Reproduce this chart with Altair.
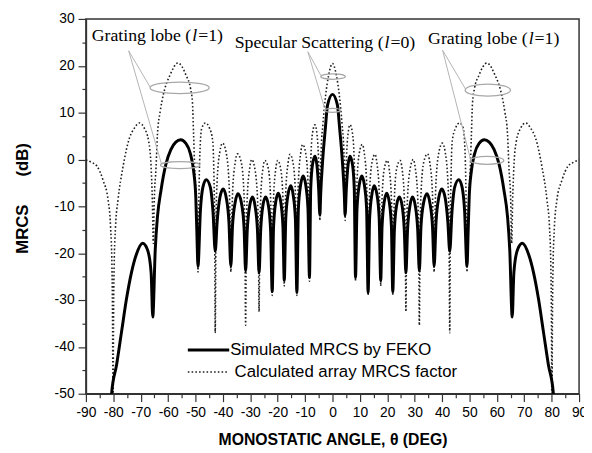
import altair as alt
import pandas as pd

# ---------------- data (angle in deg, MRCS in dB) ----------------
feko_left = [
    (-81.3, -58.0), (-80.6, -49.8), (-78.8, -43.8), (-77.0, -36.8), (-75.2, -29.8),
    (-73.4, -24.2), (-71.6, -20.3), (-69.3, -17.9), (-67.5, -19.3), (-66.2, -24.2),
    (-65.6, -33.6), (-64.7, -19.3), (-63.9, -12.3), (-62.6, -6.6), (-60.8, -1.0),
    (-59.0, 2.1), (-57.2, 3.7), (-55.4, 4.2), (-53.6, 3.5), (-51.8, 1.1),
    (-50.7, -2.4), (-49.9, -8.0), (-49.5, -15.7), (-49.1, -22.8), (-48.2, -10.8),
    (-47.3, -5.9), (-46.1, -4.3), (-44.6, -5.9), (-43.6, -11.3), (-42.8, -19.6),
    (-42.1, -13.3), (-41.1, -8.1), (-39.9, -6.3), (-38.8, -8.1), (-37.8, -13.3),
    (-37.1, -22.8), (-36.5, -14.3), (-35.5, -9.1), (-34.5, -7.3), (-33.3, -9.1),
    (-32.3, -14.3), (-31.7, -23.8), (-31.1, -15.0), (-30.2, -9.8), (-29.2, -8.0),
    (-28.3, -9.8), (-27.4, -15.0), (-26.8, -24.2), (-26.2, -15.0), (-25.4, -9.8),
    (-24.4, -8.0), (-23.4, -9.8), (-22.6, -15.0), (-22.0, -28.2), (-21.5, -14.2),
    (-20.7, -9.0), (-19.8, -7.2), (-18.9, -9.0), (-18.1, -14.2), (-17.6, -25.8),
    (-17.05, -12.6), (-16.2, -7.4), (-15.2, -5.6), (-14.4, -7.4), (-13.55, -12.6),
    (-13.0, -28.4), (-12.45, -10.5), (-11.6, -5.3), (-10.7, -3.5), (-9.8, -5.3),
    (-8.95, -10.5), (-8.4, -25.2), (-7.95, -6.3), (-7.3, -1.1), (-6.4, 0.7),
    (-5.7, -1.1), (-5.05, -6.3), (-4.6, -11.9), (-4.3, -7.3), (-3.6, -0.3),
    (-2.6, 6.7), (-1.8, 11.6), (0.0, 13.9),
]
feko_right = [
    (1.8, 11.6), (2.6, 6.7), (3.6, -0.3), (4.3, -7.3), (4.6, -11.9),
    (5.05, -6.3), (5.7, -1.1), (6.4, 0.7), (7.3, -1.1), (7.95, -6.3),
    (8.4, -25.2), (8.95, -10.5), (9.8, -5.3), (10.7, -3.5), (11.6, -5.3),
    (12.45, -10.5), (13.0, -28.4), (13.55, -12.6), (14.4, -7.4), (15.2, -5.6),
    (16.2, -7.4), (17.05, -12.6), (17.6, -25.8), (18.1, -14.2), (18.9, -9.0),
    (19.8, -7.2), (20.7, -9.0), (21.5, -14.2), (22.0, -28.2), (22.6, -15.0),
    (23.4, -9.8), (24.4, -8.0), (25.4, -9.8), (26.2, -15.0), (26.8, -24.2),
    (27.4, -15.0), (28.3, -9.8), (29.2, -8.0), (30.2, -9.8), (31.1, -15.0),
    (31.7, -23.8), (32.3, -14.3), (33.3, -9.1), (34.5, -7.3), (35.5, -9.1),
    (36.5, -14.3), (37.1, -22.8), (37.8, -13.3), (38.8, -8.1), (39.9, -6.3),
    (41.1, -8.1), (42.1, -13.3), (42.8, -19.6), (43.6, -11.3), (44.6, -5.9),
    (46.1, -4.3), (47.3, -5.9), (48.2, -10.8), (49.1, -22.8), (49.5, -15.7),
    (49.9, -8.0), (50.7, -2.4), (51.8, 1.1), (53.6, 3.5), (55.4, 4.2),
    (57.2, 3.7), (59.0, 2.1), (60.8, -1.0), (62.6, -6.6), (63.9, -12.3),
    (64.7, -19.3), (65.6, -33.6), (66.2, -24.2), (67.5, -19.3), (69.3, -17.9),
    (71.6, -20.3), (73.4, -24.2), (75.2, -29.8), (77.0, -36.8), (78.8, -43.8),
    (80.6, -49.8), (81.3, -58.0),
]
array_left = [
    (-90.0, -0.1), (-88.0, -0.6), (-86.0, -1.4), (-83.7, -4.5), (-81.9, -8.7),
    (-81.0, -14.4), (-80.5, -22.8), (-80.25, -36.8), (-80.1, -60.0), (-79.95, -36.8),
    (-79.7, -22.8), (-79.2, -14.4), (-78.3, -8.7), (-76.5, -1.7), (-74.1, 4.6),
    (-72.3, 6.7), (-70.5, 7.8), (-68.7, 6.7), (-67.1, 3.9), (-66.2, -1.7),
    (-65.75, -8.7), (-65.4, -17.9), (-65.05, -8.7), (-64.4, -1.7), (-63.9, 5.3),
    (-62.9, 10.2), (-62.3, 12.3), (-61.2, 15.1), (-59.4, 17.9), (-56.4, 20.6),
    (-53.4, 17.9), (-51.8, 15.1), (-51.1, 12.0), (-50.7, 5.3), (-50.3, -1.7),
    (-49.8, -7.3), (-49.4, -14.0), (-49.1, -24.0), (-48.85, -12.0), (-48.6, -3.0),
    (-48.2, 3.9), (-47.7, 6.7), (-46.4, 7.8), (-44.9, 6.7), (-43.7, 3.9),
    (-43.3, -3.0), (-43.0, -15.0), (-42.8, -37.0), (-42.5, -12.5), (-42.1, -4.5),
    (-41.1, 1.7), (-40.1, 3.5), (-38.9, 1.7), (-37.8, -4.5), (-37.4, -12.5),
    (-37.1, -24.0), (-36.8, -14.8), (-36.45, -6.8), (-35.5, -0.6), (-34.7, 1.2),
    (-33.3, -0.6), (-32.35, -6.8), (-32.0, -14.8), (-31.7, -35.4), (-31.45, -16.0),
    (-31.1, -8.0), (-30.2, -1.8), (-29.5, 0.0), (-28.4, -1.8), (-27.4, -8.0),
    (-27.05, -16.0), (-26.8, -32.5), (-26.55, -16.2), (-26.2, -8.2), (-25.4, -2.0),
    (-24.7, -0.2), (-23.4, -2.0), (-22.6, -8.2), (-22.25, -16.2), (-22.0, -29.0),
    (-21.8, -16.2), (-21.5, -8.2), (-20.7, -2.0), (-20.0, -0.2), (-18.9, -2.0),
    (-18.1, -8.2), (-17.8, -16.2), (-17.6, -27.0), (-17.4, -14.9), (-17.05, -6.9),
    (-16.2, -0.7), (-15.5, 1.1), (-14.4, -0.7), (-13.55, -6.9), (-13.25, -14.9),
    (-13.0, -29.0), (-12.75, -12.8), (-12.45, -4.8), (-11.6, 1.4), (-10.9, 3.2),
    (-9.8, 1.4), (-8.95, -4.8), (-8.65, -12.8), (-8.4, -26.0), (-8.2, -8.6),
    (-7.95, -0.6), (-7.3, 5.6), (-6.4, 7.4), (-5.7, 5.6), (-5.05, -0.6),
    (-4.8, -6.0), (-4.6, -13.0), (-4.45, -5.0), (-4.1, 2.5), (-3.5, 7.5),
    (-2.5, 13.7), (-1.4, 18.0), (0.0, 20.5),
]
array_right = [
    (1.4, 18.0), (2.5, 13.7), (3.5, 7.5), (4.1, 2.5), (4.45, -5.0),
    (4.6, -13.0), (4.8, -6.0), (5.05, -0.6), (5.7, 5.6), (6.4, 7.4),
    (7.3, 5.6), (7.95, -0.6), (8.2, -8.6), (8.4, -26.0), (8.65, -12.8),
    (8.95, -4.8), (9.8, 1.4), (10.9, 3.2), (11.6, 1.4), (12.45, -4.8),
    (12.75, -12.8), (13.0, -29.0), (13.25, -14.9), (13.55, -6.9), (14.4, -0.7),
    (15.5, 1.1), (16.2, -0.7), (17.05, -6.9), (17.4, -14.9), (17.6, -27.0),
    (17.8, -16.2), (18.1, -8.2), (18.9, -2.0), (20.0, -0.2), (20.7, -2.0),
    (21.5, -8.2), (21.8, -16.2), (22.0, -29.0), (22.25, -16.2), (22.6, -8.2),
    (23.4, -2.0), (24.7, -0.2), (25.4, -2.0), (26.2, -8.2), (26.55, -16.2),
    (26.8, -32.5), (27.05, -16.0), (27.4, -8.0), (28.4, -1.8), (29.5, 0.0),
    (30.2, -1.8), (31.1, -8.0), (31.45, -16.0), (31.7, -35.4), (32.0, -14.8),
    (32.35, -6.8), (33.3, -0.6), (34.7, 1.2), (35.5, -0.6), (36.45, -6.8),
    (36.8, -14.8), (37.1, -24.0), (37.4, -12.5), (37.8, -4.5), (38.9, 1.7),
    (40.1, 3.5), (41.1, 1.7), (42.1, -4.5), (42.5, -12.5), (42.8, -37.0),
    (43.0, -15.0), (43.3, -3.0), (43.7, 3.9), (44.9, 6.7), (46.4, 7.8),
    (47.7, 6.7), (48.2, 3.9), (48.6, -3.0), (48.85, -12.0), (49.1, -24.0),
    (49.4, -14.0), (49.8, -7.3), (50.3, -1.7), (50.7, 5.3), (51.1, 12.0),
    (51.8, 15.1), (53.4, 17.9), (56.4, 20.6), (59.4, 17.9), (61.2, 15.1),
    (62.3, 12.3), (62.9, 10.2), (63.9, 5.3), (64.4, -1.7), (65.05, -8.7),
    (65.4, -17.9), (65.75, -8.7), (66.2, -1.7), (67.1, 3.9), (68.7, 6.7),
    (70.5, 7.8), (72.3, 6.7), (74.1, 4.6), (76.5, -1.7), (78.3, -8.7),
    (79.2, -14.4), (79.7, -22.8), (79.95, -36.8), (80.1, -60.0), (80.25, -36.8),
    (80.5, -22.8), (81.0, -14.4), (81.9, -8.7), (83.7, -4.5), (86.0, -1.4),
    (88.0, -0.6), (90.0, -0.1),
]

series_names = ["Simulated MRCS by FEKO", "Calculated array MRCS factor"]
x_tick_values = list(range(-90, 91, 5))
y_tick_values = list(range(-50, 31, 5))

# annotation texts (split so that the "l" can be italic)
note_before = ["Grating lobe (", "Specular Scattering (", "Grating lobe ("]
note_index = ["l", "l", "l"]
note_after = ["=1)", "=0)", "=1)"]
note_angle = [-50.3, 19.9, 72.5]
note_mrcs = [25.3, 23.75, 24.6]

leader_x1 = [-74.4, -74.4, -9.0, -9.0, 40.2, 40.2]
leader_y1 = [23.2, 23.2, 23.0, 23.0, 23.3, 23.3]
leader_x2 = [-66.6, -62.4, -4.3, -2.9, 48.6, 50.4]
leader_y2 = [15.5, -1.0, 18.0, 11.0, 15.0, 0.0]

ellipse_angle = [-55.8, -55.6, 0.2, 0.0, 56.7, 56.4]
ellipse_mrcs = [15.3, -1.2, 17.7, 10.5, 14.8, -0.2]
ellipse_w = [60, 40, 25, 16, 46, 34]
ellipse_h = [11.7, 7, 5.5, 4, 12, 8]

# legend placement (data coordinates)
legend_x1 = [-52.8, -52.8]
legend_x2 = [-37.7, -38.4]
legend_text_x = [-37.7, -36.1]
legend_y = [-40.67, -45.37]

# ---------------- chart ----------------
feko_df = pd.DataFrame(feko_left + feko_right, columns=["angle", "mrcs"])
array_df = pd.DataFrame(array_left + array_right, columns=["angle", "mrcs"])

xs = alt.Scale(domain=[-90, 90], nice=False, zero=False)
ys = alt.Scale(domain=[-50, 30], nice=False, zero=False)

tick_len = {"condition": {"test": "datum.value % 10 === 0", "value": 8}, "value": 4}
lab_expr = "datum.value % 10 === 0 ? '' + datum.value : ''"

X_TITLE = "MONOSTATIC ANGLE, θ (DEG)"
Y_TITLE = "MRCS\u00a0\u00a0\u00a0\u00a0\u00a0\u00a0(dB)"

x_axis = alt.Axis(
    values=x_tick_values, labelExpr=lab_expr, tickSize=tick_len, grid=False,
    title=X_TITLE, titleFont="Liberation Sans", titleFontWeight="bold",
    titleFontSize=16, titleX=250, titleY=46, titleBaseline="middle", titleAlign="center",
    labelFlush=False, labelOverlap=False, labelPadding=4,
)
y_axis = alt.Axis(
    values=y_tick_values, labelExpr=lab_expr, tickSize=tick_len, grid=False,
    title=Y_TITLE, titleFont="Liberation Sans",
    titleFontWeight="bold", titleFontSize=17, titleX=-64, titleY=181.5, titleAngle=270,
    titleBaseline="middle", titleAlign="center",
    labelFlush=False, labelOverlap=False, labelPadding=4,
)


def X(field="angle"):
    return alt.X(f"{field}:Q", scale=xs, axis=x_axis, title=X_TITLE)


def Y(field="mrcs"):
    return alt.Y(f"{field}:Q", scale=ys, axis=y_axis, title=Y_TITLE)


DOT = dict(color="#1e1e1e", strokeWidth=1.6, strokeDash=[1.6, 2.2], strokeCap="butt")

array_line = alt.Chart(array_df).mark_line(
    clip=True, interpolate="monotone", **DOT
).encode(x=X(), y=Y())

feko_line = alt.Chart(feko_df).mark_line(
    clip=True, color="black", strokeWidth=3, interpolate="monotone", strokeJoin="round",
).encode(x=X(), y=Y())

leader_df = pd.DataFrame({"angle": leader_x1, "mrcs": leader_y1, "angle2": leader_x2, "mrcs2": leader_y2})
leaders = alt.Chart(leader_df).mark_rule(color="#b4b4b4", strokeWidth=1).encode(
    x=X(), y=Y(), x2="angle2:Q", y2="mrcs2:Q"
)

ellipses = []
for a, m, w, h in zip(ellipse_angle, ellipse_mrcs, ellipse_w, ellipse_h):
    r = h / w
    path = f"M-1,0A1,{r:.4f},0,1,1,1,0A1,{r:.4f},0,1,1,-1,0Z"
    ellipses.append(
        alt.Chart(pd.DataFrame({"angle": [a], "mrcs": [m]})).mark_point(
            shape=path, size=w * w, filled=False, color="#a8a8a8", strokeWidth=1.3, opacity=1
        ).encode(x=X(), y=Y())
    )

note_df = pd.DataFrame({
    "angle": note_angle, "mrcs": note_mrcs,
    "before": note_before, "idx": note_index, "after": note_after,
})
txt_style = dict(font="Liberation Serif", fontSize=18, color="black", baseline="alphabetic")
note_a = alt.Chart(note_df).mark_text(align="right", dx=-3.5, **txt_style).encode(x=X(), y=Y(), text="before:N")
note_b = alt.Chart(note_df).mark_text(align="center", fontStyle="italic", **txt_style).encode(x=X(), y=Y(), text="idx:N")
note_c = alt.Chart(note_df).mark_text(align="left", dx=3.5, **txt_style).encode(x=X(), y=Y(), text="after:N")

leg_df = pd.DataFrame({
    "angle": legend_x1, "angle2": legend_x2, "mrcs": legend_y,
    "tx": legend_text_x, "label": series_names,
})
leg_solid = alt.Chart(leg_df.iloc[[0]]).mark_rule(color="black", strokeWidth=3).encode(
    x=X(), x2="angle2:Q", y=Y()
)
leg_dot = alt.Chart(leg_df.iloc[[1]]).mark_rule(**DOT).encode(x=X(), x2="angle2:Q", y=Y())
leg_text = alt.Chart(leg_df).mark_text(
    align="left", baseline="middle", font="Liberation Sans", fontSize=17, color="black", dx=1
).encode(x=X("tx"), y=Y(), text="label:N")

chart = alt.layer(
    array_line, feko_line, leaders, *ellipses, note_a, note_b, note_c,
    leg_solid, leg_dot, leg_text,
).properties(
    width=500, height=380,
    autosize=alt.AutoSizeParams(type="none"),
    padding={"left": 79, "top": 8, "right": 5, "bottom": 57},
).configure_view(
    stroke="#333333", strokeWidth=1.5
).configure_axis(
    labelFont="Liberation Sans", labelFontSize=14, labelColor="black",
    tickColor="#333333", tickWidth=1.2, domainColor="#333333", domainWidth=1.5,
    titleColor="black",
)

chart.save("out.html", embed_options={"renderer": "svg", "actions": False})
